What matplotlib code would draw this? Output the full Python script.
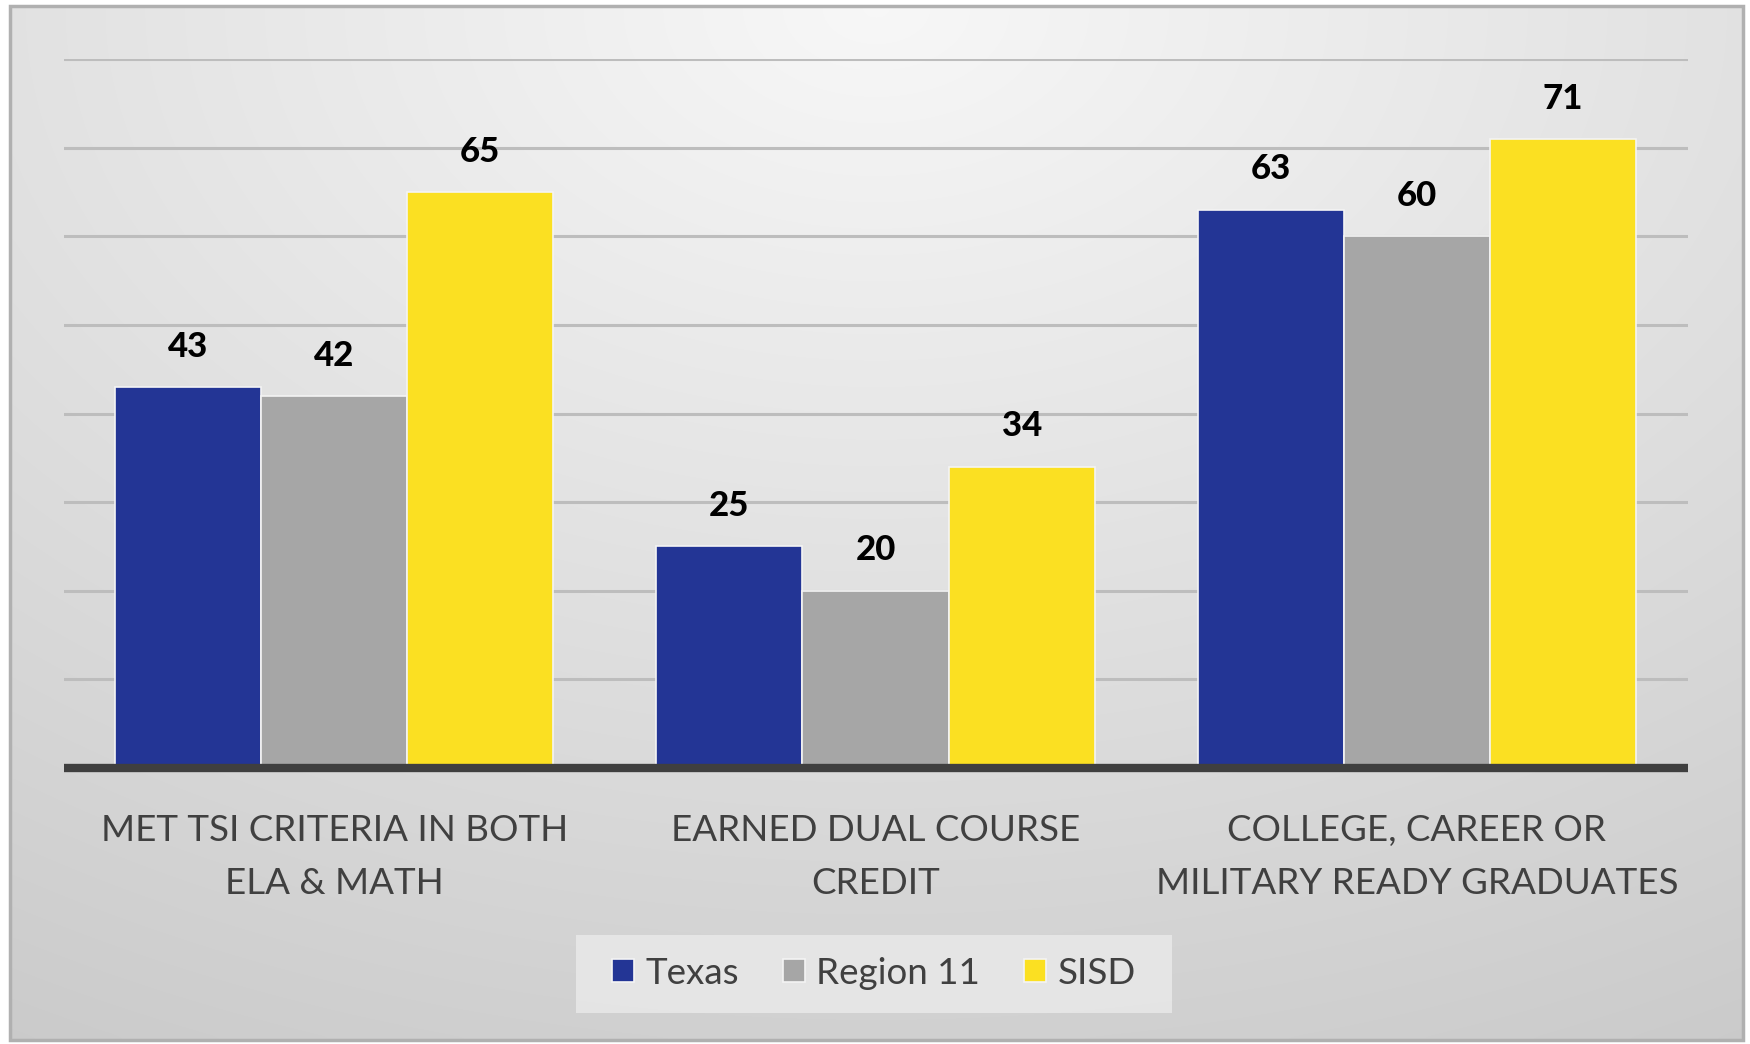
import matplotlib.pyplot as plt
import numpy as np
from matplotlib.patches import Rectangle

plt.rcParams['font.family'] = ['Lato', 'DejaVu Sans']

categories = ["MET TSI CRITERIA IN BOTH\nELA & MATH",
              "EARNED DUAL COURSE\nCREDIT",
              "COLLEGE, CAREER OR\nMILITARY READY GRADUATES"]
series = ["Texas", "Region 11", "SISD"]
texas = [43, 25, 63]
region11 = [42, 20, 60]
sisd = [65, 34, 71]
colors = ["#233595", "#a6a6a6", "#fbe022"]

W, H = 1750, 1044
fig = plt.figure(figsize=(W / 100, H / 100), dpi=100)

# background panel with a soft gradient, lighter at top centre
bg = fig.add_axes([0, 0, 1, 1])
bg.set_xlim(0, W)
bg.set_ylim(H, 0)
bg.axis("off")
yy, xx = np.mgrid[0:1:200j, 0:1:300j]
d = np.sqrt(((xx - 0.5) * 1.0) ** 2 + (yy * 0.9) ** 2)
shade = 0.97 - 0.17 * d
img = np.dstack([shade, shade, shade])
bg.imshow(img, extent=[10, 1743, 1040, 6], aspect="auto", interpolation="bicubic")
bg.add_patch(Rectangle((10, 6), 1733, 1034, fill=False, edgecolor="#b0b0b0", lw=2.5))
# legend box
bg.add_patch(Rectangle((576, 935), 596, 78, facecolor="#ececec", edgecolor="none", alpha=0.75))

ax = fig.add_axes([0.0363, 0.2644, 0.928, 0.679])
ax.set_facecolor("none")
x = np.arange(len(categories))
w = 0.27
for i, (vals, name) in enumerate(zip([texas, region11, sisd], series)):
    bars = ax.bar(x + (i - 1) * w, vals, w, color=colors[i], edgecolor="#f4f4f4",
                  linewidth=1.2, label=name, zorder=3)
    for b, v in zip(bars, vals):
        ax.annotate(str(v), (b.get_x() + b.get_width() / 2, v), xytext=(0, 29),
                    textcoords="offset points", ha="center", va="center",
                    fontsize=25, fontweight="black", color="black", zorder=4)

ax.set_xlim(-0.5, 2.5)
ax.set_ylim(0, 80)
ax.set_yticks(np.arange(10, 81, 10))
ax.yaxis.grid(True, color="#bdbdbd", lw=2.2, zorder=0)
ax.tick_params(left=False, labelleft=False, bottom=False)
for s in ["top", "right", "left"]:
    ax.spines[s].set_visible(False)
ax.spines["bottom"].set_color("#3f3f3f")
ax.spines["bottom"].set_linewidth(6)
ax.spines["bottom"].set_capstyle("butt")
ax.spines["bottom"].set_zorder(5)
ax.set_xticks(x)
ax.set_xticklabels(categories, fontsize=26.5, color="#404040", linespacing=1.74)
ax.tick_params(axis="x", pad=30)

leg = fig.legend(loc="center", bbox_to_anchor=(874 / W, 1 - 973 / H), ncol=3,
                 frameon=False, fontsize=26.5, handlelength=0.6, handleheight=0.6,
                 handletextpad=0.3, columnspacing=1.2)
for t in leg.get_texts():
    t.set_color("#404040")

fig.savefig("out.png", dpi=100)
